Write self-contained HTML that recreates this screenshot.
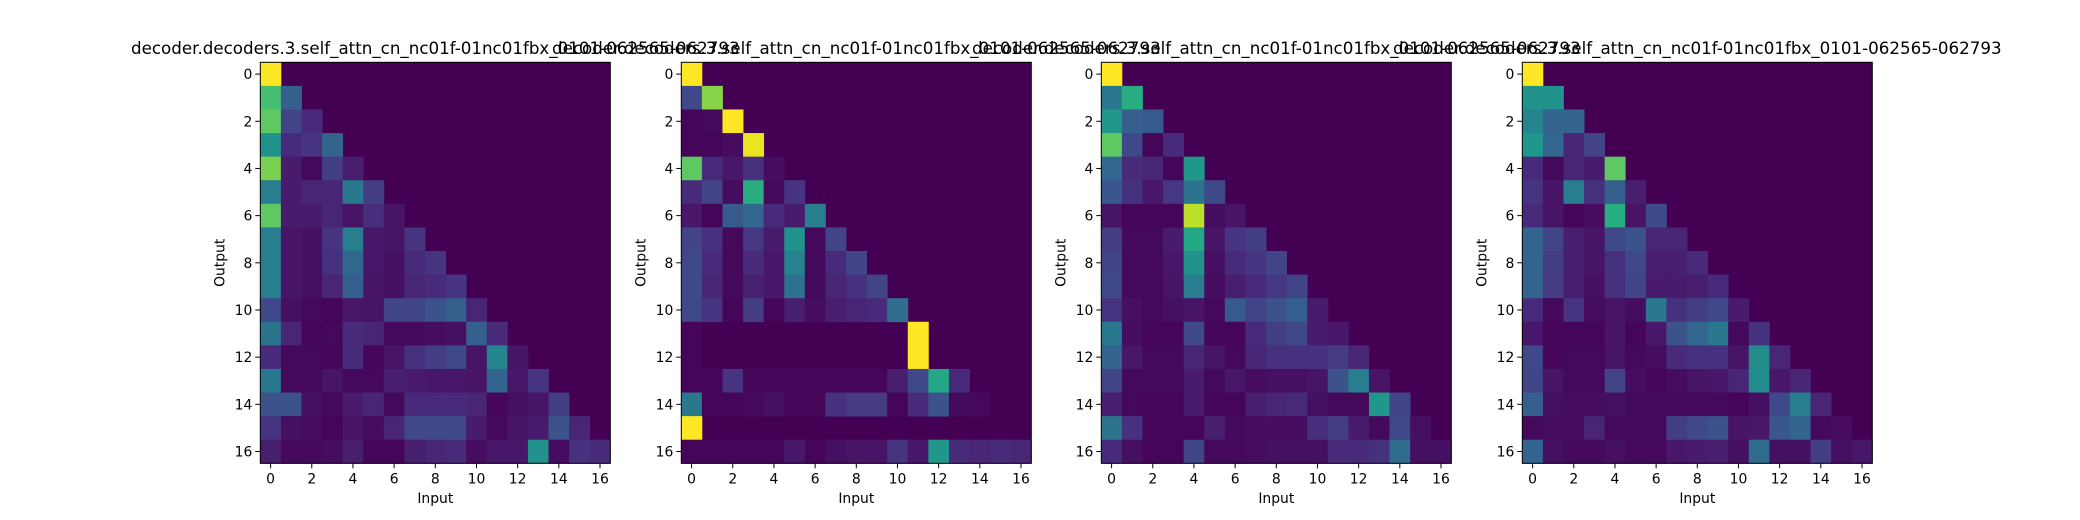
<!DOCTYPE html>
<html><head><meta charset="utf-8"><style>
html,body{margin:0;padding:0;background:#fff;}
svg{display:block;font-family:"DejaVu Sans","Liberation Sans",sans-serif;}
</style></head><body>
<svg id="chart" width="2080" height="520" viewBox="0 0 2080 520" xmlns="http://www.w3.org/2000/svg">
<rect width="2080" height="520" fill="#fff"/>
</svg>
<script>
const titles = ["decoder.decoders.3.self_attn_cn_nc01f-01nc01fbx_0101-062565-062793","decoder.decoders.3.self_attn_cn_nc01f-01nc01fbx_0101-062565-062793","decoder.decoders.3.self_attn_cn_nc01f-01nc01fbx_0101-062565-062793","decoder.decoders.3.self_attn_cn_nc01f-01nc01fbx_0101-062565-062793"];
const tickLabels = [0,2,4,6,8,10,12,14,16];
const matrix1 = [
[1],[0.7,0.3],[0.75,0.2,0.12],[0.5,0.12,0.15,0.32],[0.8,0.07,0.02,0.18,0.08],
[0.42,0.07,0.1,0.1,0.4,0.18],[0.75,0.07,0.07,0.1,0.05,0.13,0.05],
[0.42,0.05,0.04,0.15,0.42,0.06,0.05,0.15],[0.42,0.05,0.04,0.14,0.33,0.06,0.04,0.12,0.15],
[0.42,0.05,0.04,0.1,0.3,0.05,0.04,0.1,0.12,0.15],
[0.22,0.04,0.02,0.01,0.06,0.05,0.2,0.2,0.25,0.3,0.1],
[0.38,0.1,0.01,0.02,0.12,0.1,0.02,0.02,0.03,0.04,0.3,0.12],
[0.12,0.02,0.02,0.01,0.12,0.01,0.05,0.14,0.18,0.22,0.05,0.45,0.05],
[0.4,0.02,0.02,0.05,0.02,0.02,0.08,0.07,0.06,0.06,0.05,0.32,0.06,0.15],
[0.25,0.25,0.04,0.02,0.07,0.1,0.02,0.12,0.12,0.12,0.1,0.01,0.04,0.05,0.18],
[0.15,0.04,0.03,0.01,0.05,0.03,0.1,0.22,0.22,0.22,0.07,0.02,0.05,0.07,0.25,0.1],
[0.08,0.02,0.02,0.03,0.08,0.01,0.01,0.08,0.1,0.12,0.03,0.06,0.06,0.5,0.03,0.14,0.12]];
const matrix2 = [
[1],[0.22,0.82],[0.01,0.02,1],[0.01,0.01,0.03,0.97],[0.75,0.12,0.06,0.14,0.03],
[0.12,0.2,0.03,0.62,0.02,0.15],[0.06,0.01,0.28,0.33,0.12,0.07,0.42],
[0.2,0.14,0.02,0.16,0.07,0.5,0.02,0.2],[0.22,0.12,0.02,0.12,0.06,0.44,0.02,0.12,0.2],
[0.22,0.1,0.02,0.09,0.06,0.37,0.02,0.1,0.14,0.2],
[0.22,0.15,0.01,0.18,0.01,0.08,0.03,0.08,0.1,0.12,0.35],
[0.01,0,0,0,0,0,0,0,0,0,0,1],
[0.01,0,0,0,0,0,0,0,0,0,0,1,0],
[0.01,0.01,0.15,0.01,0.01,0.01,0.01,0.01,0.01,0.01,0.08,0.22,0.6,0.12],
[0.4,0.01,0.01,0.02,0.04,0.01,0.01,0.14,0.17,0.17,0.01,0.12,0.25,0.02,0.02],
[1,0,0,0,0,0,0,0,0,0,0,0,0,0,0,0],
[0.01,0.01,0.01,0.01,0.01,0.06,0.01,0.04,0.05,0.05,0.15,0.06,0.52,0.12,0.1,0.12,0.1]];
const matrix3 = [
[1],[0.4,0.62],[0.52,0.3,0.28],[0.75,0.22,0.01,0.12],[0.33,0.12,0.1,0.01,0.52],
[0.27,0.14,0.06,0.16,0.38,0.22],[0.05,0.01,0.01,0.01,0.9,0.03,0.05],
[0.18,0.02,0.02,0.07,0.6,0.05,0.15,0.18],[0.2,0.02,0.02,0.06,0.5,0.04,0.12,0.15,0.2],
[0.22,0.02,0.02,0.05,0.42,0.03,0.08,0.12,0.16,0.2],
[0.15,0.04,0.02,0.04,0.05,0.02,0.28,0.2,0.25,0.3,0.07],
[0.4,0.03,0.01,0.01,0.22,0.01,0.01,0.12,0.18,0.22,0.07,0.06],
[0.32,0.06,0.02,0.02,0.1,0.05,0.02,0.1,0.14,0.14,0.14,0.17,0.1],
[0.2,0.02,0.02,0.02,0.07,0.02,0.06,0.03,0.04,0.04,0.05,0.25,0.42,0.05],
[0.08,0.02,0.01,0.01,0.07,0.01,0.01,0.08,0.1,0.12,0.04,0.02,0.02,0.52,0.2],
[0.38,0.14,0.01,0.01,0.01,0.08,0.02,0.03,0.03,0.03,0.13,0.18,0.07,0.02,0.22,0.04],
[0.12,0.04,0.01,0.01,0.2,0.02,0.02,0.03,0.04,0.04,0.04,0.12,0.12,0.14,0.35,0.04,0.04]];
const matrix4 = [
[1],[0.5,0.5],[0.45,0.32,0.32],[0.52,0.33,0.1,0.2],[0.12,0.02,0.1,0.07,0.75],
[0.15,0.05,0.42,0.14,0.3,0.08],[0.12,0.05,0.01,0.03,0.62,0.05,0.22],
[0.32,0.2,0.08,0.05,0.22,0.25,0.1,0.1],[0.32,0.18,0.08,0.05,0.14,0.22,0.08,0.08,0.12],
[0.32,0.17,0.08,0.04,0.14,0.2,0.07,0.07,0.08,0.12],
[0.12,0.02,0.15,0.03,0.05,0.03,0.4,0.14,0.18,0.22,0.07],
[0.06,0.01,0.01,0.01,0.05,0.01,0.06,0.25,0.33,0.4,0.02,0.14],
[0.22,0.01,0.02,0.02,0.05,0.02,0.03,0.12,0.14,0.14,0.05,0.48,0.1],
[0.2,0.05,0.02,0.02,0.2,0.03,0.01,0.03,0.05,0.06,0.1,0.48,0.06,0.1],
[0.3,0.04,0.03,0.03,0.04,0.02,0.02,0.02,0.02,0.02,0.01,0.04,0.22,0.42,0.1],
[0.02,0.03,0.03,0.1,0.02,0.02,0.02,0.18,0.22,0.25,0.05,0.06,0.27,0.32,0.02,0.03],
[0.32,0.04,0.02,0.02,0.04,0.02,0.02,0.06,0.07,0.08,0.04,0.35,0.04,0.04,0.18,0.04,0.06]];
const matrices = [matrix1, matrix2, matrix3, matrix4];

const VIR = [[68,1,84],[72,26,108],[71,47,125],[65,68,135],[57,86,140],[49,104,142],[42,120,142],[35,137,142],[31,154,138],[34,168,132],[53,183,121],[84,197,104],[122,209,81],[165,219,54],[210,226,27],[253,231,37]];
function viridis(v){v=Math.max(0,Math.min(1,v));const p=v*(VIR.length-1);const i=Math.min(Math.floor(p),VIR.length-2);const f=p-i;const a=VIR[i],b=VIR[i+1];return `rgb(${Math.round(a[0]+(b[0]-a[0])*f)},${Math.round(a[1]+(b[1]-a[1])*f)},${Math.round(a[2]+(b[2]-a[2])*f)})`;}

const NS="http://www.w3.org/2000/svg";
const svg=document.getElementById('chart');
function mk(tag,attrs,parent){const e=document.createElementNS(NS,tag);for(const k in attrs)e.setAttribute(k,attrs[k]);(parent||svg).appendChild(e);return e;}
const N=17, W=350, H=401, Y0=62.3;
const X0s=[260.3,681.3,1101.3,1522.3];
matrices.forEach((m,p)=>{
  const x0=X0s[p];
  const g=mk('g',{});
  
  
  const xs=i=>x0+i*W/N, ys=j=>Y0+j*H/N;
  const xc=i=>x0+(i+0.5)*W/N, yc=j=>Y0+(j+0.5)*H/N;
  mk('rect',{x:x0,y:Y0,width:W,height:H,fill:viridis(0)},g);
  for(let r=0;r<N;r++){for(let c=0;c<N;c++){
    const v=(m[r]&&m[r][c]!==undefined)?m[r][c]:0;
    if(v<=0)continue;
    const cell=mk('rect',{x:xs(c),y:ys(r),width:W/N+0.4,height:H/N+0.4,fill:viridis(v)},g);
    
    
  }}
  const fr=mk('rect',{x:x0,y:Y0,width:W,height:H,fill:'none',stroke:'#000','stroke-width':1},g);
  
  
  tickLabels.forEach(t=>{
    mk('line',{x1:xc(t),x2:xc(t),y1:Y0+H,y2:Y0+H+5,stroke:'#000','stroke-width':1},g);
    const tx=mk('text',{x:xc(t),y:Y0+H+20,'font-size':13.9,'text-anchor':'middle',fill:'#000'},g);
    tx.textContent=t;
    
    
    mk('line',{x1:x0-5,x2:x0,y1:yc(t),y2:yc(t),stroke:'#000','stroke-width':1},g);
    const ty=mk('text',{x:x0-8,y:yc(t)+5,'font-size':13.9,'text-anchor':'end',fill:'#000'},g);
    ty.textContent=t;
    
    
  });
  const xl=mk('text',{x:x0+W/2,y:503,'font-size':13.9,'text-anchor':'middle',fill:'#000'},g);
  xl.textContent='Input';
  
  
  const yl=mk('text',{x:0,y:0,'font-size':13.9,'text-anchor':'middle',fill:'#000',transform:`translate(${x0-36},${Y0+H/2}) rotate(-90)`},g);
  yl.textContent='Output';
  
  
  const tt=mk('text',{x:x0+W/2,y:54,'font-size':16.7,'text-anchor':'middle',fill:'#000'},g);
  tt.textContent=titles[p];
  
  
});
</script>
</body></html>
